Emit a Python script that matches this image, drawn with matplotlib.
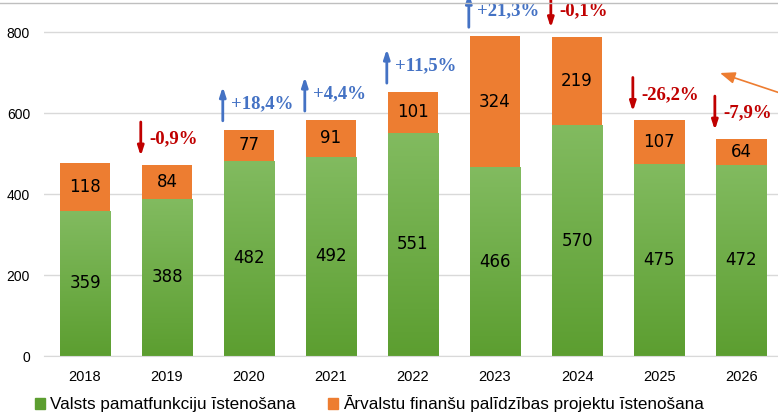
import numpy as np
import matplotlib.pyplot as plt
from matplotlib.colors import LinearSegmentedColormap
from matplotlib.lines import Line2D

years = ["2018", "2019", "2020", "2021", "2022", "2023", "2024", "2025", "2026"]
core = [359, 388, 482, 492, 551, 466, 570, 475, 472]
foreign = [118, 84, 77, 91, 101, 324, 219, 107, 64]
changes = [None, "-0,9%", "+18,4%", "+4,4%", "+11,5%", "+21,3%", "-0,1%", "-26,2%", "-7,9%"]
legend_labels = ["Valsts pamatfunkciju īstenošana",
                 "Ārvalstu finanšu palīdzības projektu īstenošana"]

green_top = "#82bb60"
green_bottom = "#5c9e30"
orange = "#ed7d31"
blue = "#4472c4"
red = "#c00000"

fig = plt.figure(figsize=(7.78, 4.16), dpi=100)
ax = fig.add_axes([44 / 778, 1 - 356 / 416, 1 - 44 / 778, (356 - 5) / 416])

x = np.arange(len(years))
width = 0.62
totals = [c + f for c, f in zip(core, foreign)]

green_cmap = LinearSegmentedColormap.from_list("g", [green_bottom, green_top])
grad = np.linspace(0, 1, 256).reshape(-1, 1)

bars_core = ax.bar(x, core, width, color=green_top, zorder=2)
for b in bars_core:
    x0, w, h = b.get_x(), b.get_width(), b.get_height()
    im = ax.imshow(grad, extent=[x0, x0 + w, 0, h], origin="lower", aspect="auto",
                   cmap=green_cmap, zorder=2.1)
    im.set_clip_path(b)
ax.bar(x, foreign, width, bottom=core, color=orange, zorder=2)

# value labels inside segments
for i in range(len(years)):
    ax.text(x[i], core[i] / 2, str(core[i]), ha="center", va="center",
            fontsize=12, color="black", zorder=3)
    ax.text(x[i], core[i] + foreign[i] / 2, str(foreign[i]), ha="center", va="center",
            fontsize=12, color="black", zorder=3)

# change arrows + labels
for i, lab in enumerate(changes):
    if lab is None:
        continue
    up = lab.startswith("+")
    col = blue if up else red
    ax_x = x[i] - 0.32
    base = totals[i] + 22
    top = base + 84
    start, end = (base, top) if up else (top, base)
    ax.annotate("", xy=(ax_x, end), xytext=(ax_x, start),
                arrowprops=dict(arrowstyle="-|>,head_length=0.55,head_width=0.18",
                                color=col, lw=2.0, shrinkA=0, shrinkB=0),
                zorder=4, annotation_clip=False)
    ax.text(ax_x + 0.1, (base + top) / 2, lab, ha="left", va="center",
            fontsize=13.5, fontweight="bold", family="Liberation Serif",
            color=col, zorder=4)

# orange pointer arrow on right
ax.annotate("", xy=(720, 416 - 73), xytext=(780, 416 - 93),
            xycoords="figure pixels", textcoords="figure pixels",
            arrowprops=dict(arrowstyle="-|>,head_length=0.9,head_width=0.35",
                            color=orange, lw=1.2, shrinkA=0, shrinkB=0))

ax.set_xlim(-0.5, 8.45)
ax.set_ylim(0, 867)
ax.set_yticks([0, 200, 400, 600, 800])
ax.set_xticks(x)
ax.set_xticklabels(years)
ax.tick_params(axis="y", length=0, pad=10, labelsize=10)
ax.tick_params(axis="x", length=0, pad=10, labelsize=10.5)
for lbl in ax.get_xticklabels() + ax.get_yticklabels():
    lbl.set_family("Liberation Sans")
ax.grid(axis="y", color="#d9d9d9", linewidth=1, zorder=0)
for s in ["top", "right", "left"]:
    ax.spines[s].set_visible(False)
ax.spines["bottom"].set_color("#d9d9d9")

# legend
handles = [plt.Rectangle((0, 0), 1, 1, color=green_bottom),
           plt.Rectangle((0, 0), 1, 1, color=orange)]
fig.legend(handles, legend_labels, loc="center left", bbox_to_anchor=(20 / 778, 1 - 404 / 416),
           ncol=2, frameon=False, prop={"family": "Liberation Sans", "size": 12.3},
           handlelength=0.58, handleheight=0.58, handletextpad=0.3, columnspacing=1.9)

fig.add_artist(Line2D([0, 1], [1 - 3 / 416, 1 - 3 / 416], color="#bfbfbf", lw=1))

fig.savefig("out.png", dpi=100)
